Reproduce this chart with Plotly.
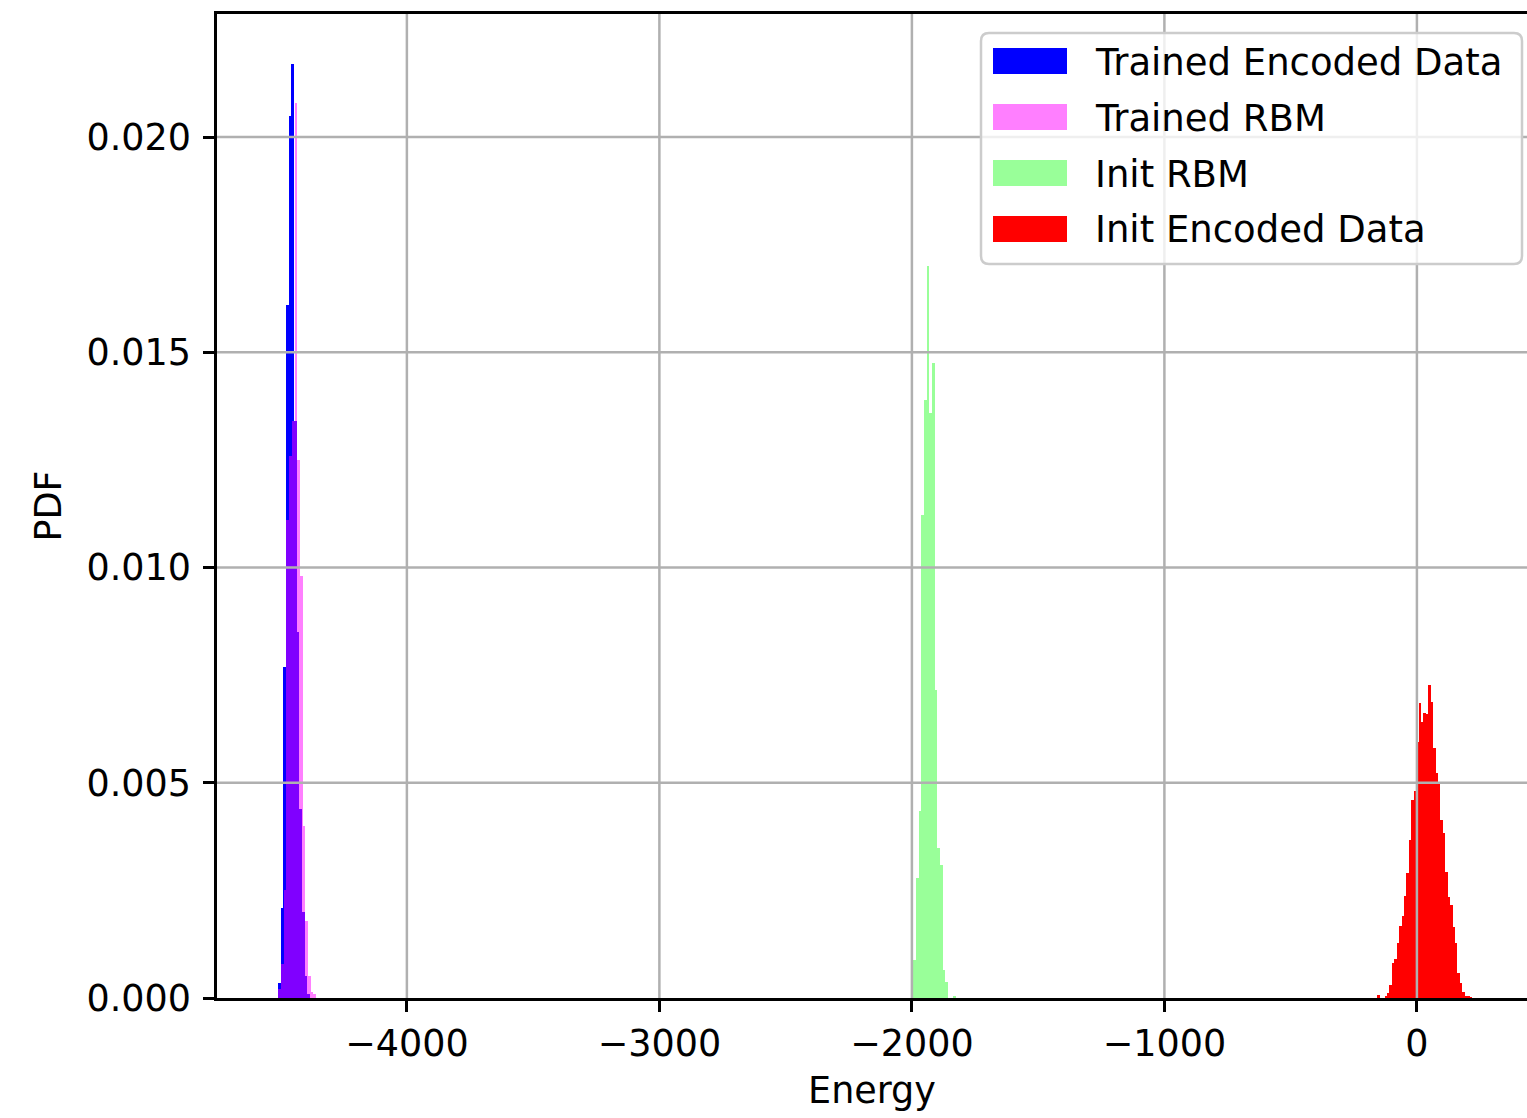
import plotly.graph_objects as go

# ---------------- data (histogram bins: first bin left edge, bin width, density values) -------------
ted_label = "Trained Encoded Data"
ted_start = -4511.0
ted_width = 10.6
ted_pdf = [0.00034, 0.0021, 0.0077, 0.0161, 0.0205, 0.0217, 0.0134, 0.0085,
           0.0044, 0.0020, 0.0005, 0.0001]

trbm_label = "Trained RBM"
trbm_start = -4509.0
trbm_width = 10.7
trbm_pdf = [0.0002, 0.0008, 0.0025, 0.0111, 0.0126, 0.0134, 0.0208, 0.0125,
            0.0098, 0.0040, 0.0018, 0.0005, 0.00015, 0.0001]

irbm_label = "Init RBM"
irbm_start = -1994.8
irbm_width = 10.57
irbm_pdf = [0.00088, 0.00278, 0.00435, 0.01122, 0.01389, 0.0170, 0.0136, 0.01476,
            0.00715, 0.00348, 0.00309, 0.00065, 0.00038, 0.0, 0.0, 0.00005]

ied_label = "Init Encoded Data"
ied_start = -157.2
ied_width = 9.63
ied_pdf = [0.00007, 0.0, 0.0, 0.00005, 0.00012, 0.0003, 0.00082, 0.0009, 0.00128,
           0.00167, 0.0019, 0.00237, 0.0029, 0.00367, 0.0046, 0.0048, 0.00595,
           0.00685, 0.00642, 0.00661, 0.0066, 0.00727, 0.00688, 0.0058, 0.00522,
           0.00502, 0.00413, 0.00383, 0.00293, 0.00235, 0.00216, 0.00166, 0.00127,
           0.00057, 0.00036, 0.00015, 0.00005, 0.00003, 0.00002]

x_tickvals = [-4000, -3000, -2000, -1000, 0]
x_ticktext = ["\u22124000", "\u22123000", "\u22122000", "\u22121000", "0"]
y_tickvals = [0.000, 0.005, 0.010, 0.015, 0.020]
y_ticktext = ["0.000", "0.005", "0.010", "0.015", "0.020"]

x_title = "Energy"
y_title = "PDF"

# ---------------- styling ----------------
FONT = "DejaVu Sans"
FS = 36.5
LFS = 37
W, H = 1527, 1118
ML, MT, MR = 217, 14, 0
PH = 984
MB = H - MT - PH
PW = W - ML - MR

col_ted = "rgb(0,0,255)"
col_trbm = "rgba(255,0,255,0.5)"
col_irbm = "rgba(0,255,0,0.4)"
col_ied = "rgb(255,0,0)"


def centers(start, width, n):
    return [start + width * (i + 0.5) for i in range(n)]


def px_x(px):
    return (px - ML) / PW


def px_y(py):
    return (MT + PH - py) / PH


fig = go.Figure()
for vals, start, width, col, name in [
    (ted_pdf, ted_start, ted_width, col_ted, ted_label),
    (trbm_pdf, trbm_start, trbm_width, col_trbm, trbm_label),
    (irbm_pdf, irbm_start, irbm_width, col_irbm, irbm_label),
    (ied_pdf, ied_start, ied_width, col_ied, ied_label),
]:
    fig.add_trace(go.Bar(
        x=centers(start, width, len(vals)), y=vals, width=width,
        marker=dict(color=col, line=dict(width=0)), name=name, showlegend=False,
    ))

shapes = []
# grid lines drawn above the bars (matplotlib style)
for xv in x_tickvals:
    shapes.append(dict(type="line", xref="x", yref="paper", x0=xv, x1=xv, y0=0, y1=1,
                       line=dict(color="#b0b0b0", width=2.5), layer="above"))
for yv in y_tickvals[1:]:
    shapes.append(dict(type="line", xref="paper", yref="y", x0=0, x1=1, y0=yv, y1=yv,
                       line=dict(color="#b0b0b0", width=2.5), layer="above"))

# legend box (rounded)
bx0, bx1, by0, by1 = px_x(981), px_x(1522), px_y(264), px_y(33)
r = 8
rx, ry = r / PW, r / PH
path = (f"M {bx0+rx},{by1} L {bx1-rx},{by1} Q {bx1},{by1} {bx1},{by1-ry} "
        f"L {bx1},{by0+ry} Q {bx1},{by0} {bx1-rx},{by0} "
        f"L {bx0+rx},{by0} Q {bx0},{by0} {bx0},{by0+ry} "
        f"L {bx0},{by1-ry} Q {bx0},{by1} {bx0+rx},{by1} Z")
shapes.append(dict(type="path", xref="paper", yref="paper", path=path,
                   fillcolor="rgba(255,255,255,0.8)", line=dict(color="#cccccc", width=2.5),
                   layer="above"))

annotations = []
entries = [(ted_label, col_ted), (trbm_label, col_trbm), (irbm_label, col_irbm), (ied_label, col_ied)]
for i, (lab, col) in enumerate(entries):
    cy = 61 + 56 * i
    shapes.append(dict(type="rect", xref="paper", yref="paper",
                       x0=px_x(993), x1=px_x(1067), y0=px_y(cy + 13), y1=px_y(cy - 13),
                       fillcolor=col, line=dict(width=0), layer="above"))
    annotations.append(dict(xref="paper", yref="paper", x=px_x(1093), y=px_y(cy + 1),
                            text=lab, showarrow=False, xanchor="left", yanchor="middle",
                            font=dict(family=FONT, size=LFS, color="#000000")))

fig.update_layout(
    width=W, height=H,
    margin=dict(l=ML, r=MR, t=MT, b=MB, pad=0),
    paper_bgcolor="white", plot_bgcolor="white",
    barmode="overlay", bargap=0,
    font=dict(family=FONT, size=FS, color="#000000"),
    shapes=shapes, annotations=annotations,
    showlegend=False,
)
fig.update_xaxes(
    range=[-4752, 436], tickmode="array", tickvals=x_tickvals, ticktext=x_ticktext,
    showgrid=False, zeroline=False, showline=True, mirror=True, linecolor="black", linewidth=2.5,
    ticks="outside", ticklen=11, tickwidth=2.5, tickcolor="black", layer="above traces",
    tickfont=dict(family=FONT, size=FS, color="#000000"),
    title=dict(text=x_title, font=dict(family=FONT, size=FS, color="#000000"), standoff=14),
)
fig.update_yaxes(
    range=[0, 0.02286], tickmode="array", tickvals=y_tickvals, ticktext=y_ticktext,
    showgrid=False, zeroline=False, showline=True, mirror=False, linecolor="black", linewidth=2.5,
    ticks="outside", ticklen=11, tickwidth=2.5, tickcolor="black", layer="above traces",
    ticklabelstandoff=5,
    tickfont=dict(family=FONT, size=FS, color="#000000"),
    title=dict(text=y_title, font=dict(family=FONT, size=FS, color="#000000"), standoff=14),
)

page_fix = ("document.documentElement.style.margin='0';document.documentElement.style.overflow='hidden';"
            "document.body.style.margin='0';document.body.style.padding='0';"
            "document.body.style.overflow='hidden';")
fig.write_html("out.html", post_script=page_fix,
               config={"displayModeBar": False, "staticPlot": False})
